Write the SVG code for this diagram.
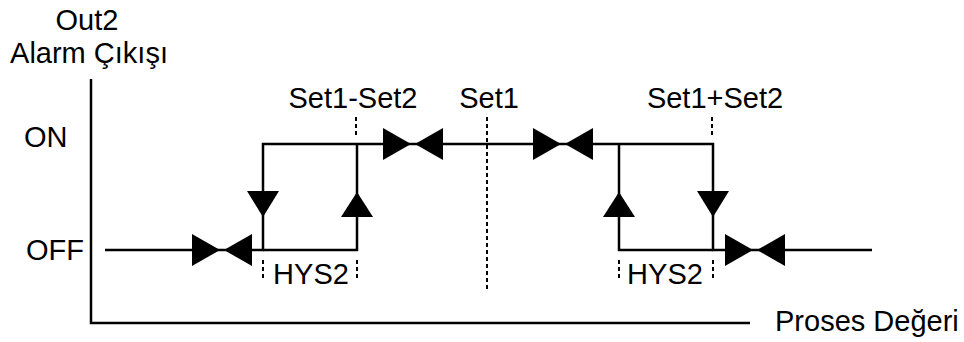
<svg xmlns="http://www.w3.org/2000/svg" width="964" height="342" viewBox="0 0 964 342">
<style>
text{font-family:"Liberation Sans",Arial,sans-serif;font-size:29px;fill:#000}
.ln{stroke:#000;stroke-width:2.5;fill:none}
.ds{stroke:#000;stroke-width:2;fill:none;stroke-dasharray:4 3}
.ah{fill:#000;stroke:none}
</style>
<rect width="964" height="342" fill="#fff"/>
<g id="axes">
<path class="ln" d="M91,79 V323 H750"/>
</g>
<g id="labels">
<text x="87" y="30" text-anchor="middle">Out2</text>
<text x="89" y="63" text-anchor="middle">Alarm Çıkışı</text>
<text x="24" y="147">ON</text>
<text x="26" y="260">OFF</text>
<text x="775" y="331">Proses Değeri</text>
<text x="353" y="108" text-anchor="middle">Set1-Set2</text>
<text x="489" y="108" text-anchor="middle">Set1</text>
<text x="715" y="108" text-anchor="middle">Set1+Set2</text>
<text x="311" y="284" text-anchor="middle">HYS2</text>
<text x="665" y="284" text-anchor="middle">HYS2</text>
</g>
<g id="markers">
<path class="ds" d="M487,117 V292"/>
<path class="ds" d="M356,117 V136"/>
<path class="ds" d="M712,117 V136"/>
<path class="ds" d="M263,260 V280 M357,260 V280 M619,260 V280 M713,260 V280"/>
</g>
<g id="connectors">
<path class="ln" d="M105,250 H263 V144 H713 V250 H872"/>
<path class="ln" d="M357,144 V250 H263"/>
<path class="ln" d="M619,144 V250 H713"/>
<path class="ah" d="M247,191 H279 L263,217 Z"/>
<path class="ah" d="M341,217 H373 L357,192 Z"/>
<path class="ah" d="M603,217 H635 L619,192 Z"/>
<path class="ah" d="M697,191 H729 L713,217 Z"/>
<path class="ah" d="M192,234 V266 L220,250 Z M252,234 V266 L224,250 Z"/>
<path class="ah" d="M383,128 V160 L411,144 Z M443,128 V160 L415,144 Z"/>
<path class="ah" d="M533,128 V160 L561,144 Z M593,128 V160 L565,144 Z"/>
<path class="ah" d="M725,234 V266 L753,250 Z M785,234 V266 L757,250 Z"/>
</g>
</svg>
